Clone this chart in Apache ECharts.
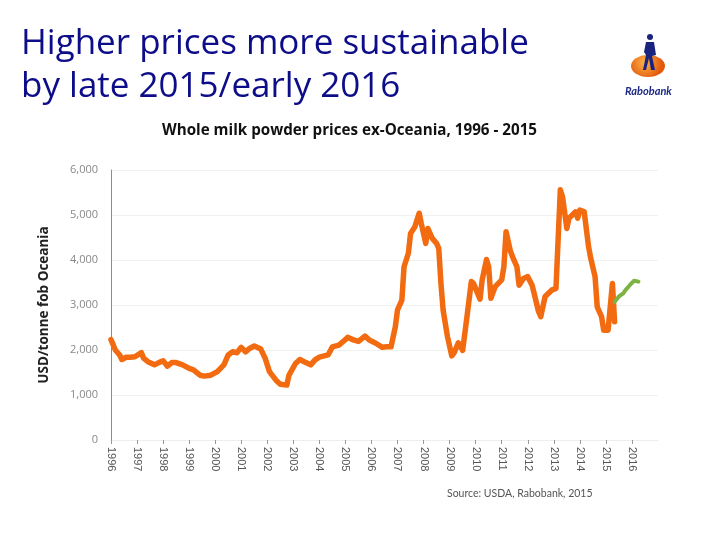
<!DOCTYPE html>
<html>
<head>
<meta charset="utf-8">
<script src="https://cdn.jsdelivr.net/npm/echarts@6/dist/echarts.min.js"></script>
<style>html,body{margin:0;padding:0;background:#fff;}#c{width:720px;height:540px;}</style>
</head>
<body>
<div id="c"></div>
<script>
// Whole milk powder prices ex-Oceania (USD/tonne)
const months = ["1996-01","1996-03","1996-05","1996-06","1996-08","1996-10","1996-12",
"1997-03","1997-04","1997-06","1997-09","1997-11",
"1998-01","1998-03","1998-05","1998-07","1998-10",
"1999-01","1999-03","1999-06","1999-08","1999-11",
"2000-02","2000-05","2000-07","2000-09","2000-11",
"2001-01","2001-03","2001-05","2001-07","2001-10","2001-12",
"2002-02","2002-05","2002-07","2002-10","2002-11",
"2003-02","2003-04","2003-06","2003-09","2003-11",
"2004-01","2004-05","2004-07","2004-10","2004-12",
"2005-02","2005-05","2005-07","2005-10","2005-12",
"2006-03","2006-06","2006-08","2006-10","2006-12",
"2007-01","2007-03","2007-04","2007-06","2007-07","2007-09","2007-11","2007-12",
"2008-02","2008-03","2008-05","2008-07","2008-08","2008-09","2008-10","2008-12",
"2009-02","2009-03","2009-05","2009-07","2009-09","2009-11","2009-12",
"2010-03","2010-04","2010-06","2010-07","2010-08","2010-10",
"2011-01","2011-02","2011-03","2011-05","2011-06","2011-08","2011-09","2011-11",
"2012-01","2012-03","2012-06","2012-07","2012-09","2012-12",
"2013-02","2013-04","2013-05","2013-07","2013-08","2013-11","2013-12",
"2014-01","2014-03","2014-05","2014-06","2014-08","2014-09","2014-11","2014-12",
"2015-02","2015-04","2015-05"];
const prices = [2230,2000,1890,1790,1840,1840,1850,
1940,1820,1740,1670,1720,
1760,1640,1720,1720,1670,
1590,1560,1440,1420,1440,
1520,1670,1890,1960,1940,
2060,1960,2040,2090,2020,1820,
1520,1330,1240,1220,1440,
1700,1790,1740,1670,1780,
1840,1890,2070,2110,2190,
2280,2220,2190,2310,2220,
2150,2060,2070,2070,2520,
2890,3110,3850,4150,4590,4740,5040,4800,
4370,4700,4480,4370,4260,3480,2890,2300,
1870,1930,2160,1990,2740,3520,3480,
3130,3560,4010,3850,3150,3410,
3560,3850,4630,4200,4070,3850,3440,3590,
3630,3440,2850,2740,3190,3330,
3370,5560,5410,4700,4930,5070,4930,
5110,5070,4300,4040,3630,2960,2740,2440,
2440,3480,2630];
const forecastMonths = ["2015-05","2015-07","2015-09","2015-10","2015-12","2016-02","2016-04"];
const forecast = [3070,3190,3260,3330,3440,3540,3520];
const yearTicks = [1996,1997,1998,1999,2000,2001,2002,2003,2004,2005,2006,2007,2008,2009,2010,2011,2012,2013,2014,2015,2016];

function toYear(s){const p=s.split('-');return +p[0]+(+p[1]-1)/12;}
const histData = months.map((m,i)=>[toYear(m),prices[i]]);
const fcData = forecastMonths.map((m,i)=>[toYear(m),forecast[i]]);

const chart = echarts.init(document.getElementById('c'));
chart.setOption({
  animation:false,
  backgroundColor:'#fff',
  grid:{left:111,right:62,top:170,bottom:100,containLabel:false},
  xAxis:{type:'value',min:1996,max:2017,interval:1,
    axisLine:{show:true,lineStyle:{color:'#eeeeee'}},
    axisTick:{show:true,length:4,lineStyle:{color:'#999'}},
    splitLine:{show:false},
    axisLabel:{rotate:-90,margin:7,color:'#555',fontSize:11,fontFamily:'Liberation Sans',
      showMaxLabel:false,
      formatter:v=>yearTicks.indexOf(v)>=0?String(v):''}},
  yAxis:{type:'value',min:0,max:6000,interval:1000,
    axisLine:{show:true,lineStyle:{color:'#8c8c8c'}},
    axisTick:{show:false},
    splitLine:{show:true,lineStyle:{color:'#f1f1f1'}},
    axisLabel:{color:'#888',fontSize:11,fontFamily:'Open Sans',margin:13,
      formatter:v=>v.toLocaleString('en-US')},
    name:'USD/tonne fob Oceania',nameLocation:'middle',nameGap:60,
    nameTextStyle:{fontWeight:'bold',fontSize:13.5,color:'#222',fontFamily:'Open Sans',padding:[0,0,0,0]}},
  series:[
    {type:'line',data:histData,symbol:'none',smooth:false,
      lineStyle:{color:'#f26b10',width:5.5,cap:'round',join:'round'}},
    {type:'line',data:fcData,symbol:'none',smooth:false,
      lineStyle:{color:'#7cb342',width:4,cap:'round',join:'round'}}
  ],
  graphic:[
    {type:'text',left:21,top:23,style:{text:'Higher prices more sustainable\nby late 2015/early 2016',
      fill:'#0d0d8a',font:'35px "Open Sans"',lineHeight:43}},
    {type:'text',left:162,top:123,style:{text:'Whole milk powder prices ex-Oceania, 1996 - 2015',
      fill:'#111',font:'bold 15.2px "Open Sans"'}},
    {type:'text',left:447,top:488,style:{text:'Source: USDA, Rabobank, 2015',fill:'#555',font:'10.5px Lato'}},
    {type:'ellipse',shape:{cx:648,cy:66,rx:17,ry:11},
      style:{fill:{type:'radial',x:0.4,y:0.35,r:0.8,colorStops:[{offset:0,color:'#fbb34a'},{offset:1,color:'#e3570c'}]}}},
    {type:'circle',shape:{cx:650,cy:37,r:3},style:{fill:'#1a237e'}},
    {type:'polygon',shape:{points:[[646,42],[654,42],[656,55],[652,56],[655,70],[651,70],[649,58],[646,70],[643,70],[646,55],[644,52]]},style:{fill:'#1a237e'}},
    {type:'text',left:625,top:86,style:{text:'Rabobank',fill:'#1c2a85',font:'italic bold 11px Lato'}}
  ]
});
</script>
</body>
</html>
